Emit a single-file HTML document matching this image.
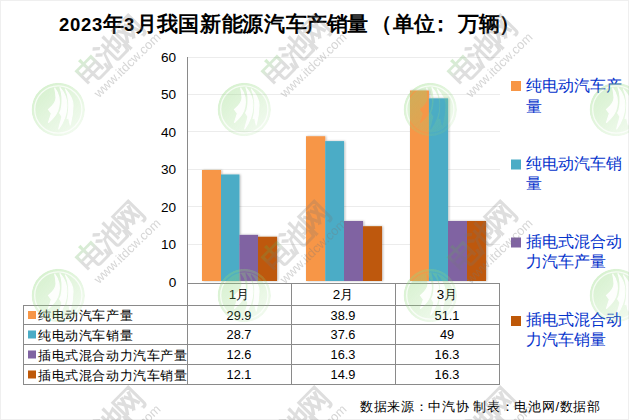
<!DOCTYPE html>
<html><head><meta charset="utf-8">
<style>
html,body{margin:0;padding:0;background:#fff;}
body{width:629px;height:420px;overflow:hidden;position:relative;font-family:"Liberation Sans",sans-serif;}
svg{position:absolute;left:0;top:0;}
.t{font-family:"Liberation Sans",sans-serif;}
</style></head><body>
<svg width="629" height="420" viewBox="0 0 629 420">
<defs>
  <filter id="sh" x="-20%" y="-20%" width="140%" height="140%"><feDropShadow dx="1" dy="0" stdDeviation="1.3" flood-color="#000" flood-opacity="0.28"/></filter>
  <linearGradient id="wg" x1="0.15" y1="0.1" x2="0.85" y2="0.9">
    <stop offset="0" stop-color="#8fd87a" stop-opacity="0.36"/><stop offset="1" stop-color="#8fd87a" stop-opacity="0.12"/>
  </linearGradient>
  <linearGradient id="tg" x1="0" y1="0" x2="1" y2="0">
    <stop offset="0" stop-color="#5cba4a"/><stop offset="0.22" stop-color="#7a9a70"/><stop offset="0.34" stop-color="#777"/><stop offset="1" stop-color="#777"/>
  </linearGradient>
  <mask id="lm" maskUnits="userSpaceOnUse" x="-30" y="-30" width="60" height="60">
    <rect x="-30" y="-30" width="60" height="60" fill="#000"/>
    <circle cx="0" cy="0" r="26.7" fill="#fff"/>
    <circle cx="0" cy="0" r="23.6" fill="none" stroke="#000" stroke-width="1.3" opacity="0.75"/>
    <g fill="#000" stroke="#000" stroke-width="1.1" stroke-linejoin="round" opacity="0.92">
    <path d="M-3.6,-21.5 C1,-16 1.8,-8 0.6,-3 C-0.5,4 -5,9 -9.8,13 L-6.9,3.9 L-9.8,0 C-5,-4 -2,-8 -2.3,-12 C-2.5,-16 -3,-19 -3.6,-21.5Z"/>
    <path d="M1.7,-22 C6,-17 8.8,-10 8.6,-4 C8.4,6 5,13 0.4,19.5 L3.7,7.2 L1.3,3.5 C3.5,0 4,-6 3.7,-12.8 C3.5,-16 2.8,-19 1.7,-22Z"/>
    <path d="M7.1,-20.5 C11,-16 14.8,-10 14.7,-4 C14.6,4 13.3,10 11.9,15.5 L10.2,8 L8.8,9.2 C10.4,4 10.6,-2 10.4,-7.5 C10,-13 8.8,-17 7.1,-20.5Z"/>
    </g>
  </mask>
  <g id="logo">
    <circle cx="0" cy="0" r="26.7" fill="url(#wg)" mask="url(#lm)"/>
  </g>
  <linearGradient id="eg" x1="0" y1="0" x2="0" y2="1">
    <stop offset="0" stop-color="#4fbf3a"/><stop offset="0.3" stop-color="#6aa860"/><stop offset="0.48" stop-color="#777"/><stop offset="1" stop-color="#777"/>
  </linearGradient>
  <g id="wm">
    <use href="#logo" x="58.3" y="109.5"/>
    <g transform="translate(110,50) rotate(-45.5)" font-size="30" font-weight="900" opacity="0.24" style="font-family:'Liberation Sans',sans-serif" text-anchor="middle" dominant-baseline="central">
      <text x="-26.5" y="0" fill="url(#eg)">电</text>
      <text x="0.5" y="0" fill="#777">池</text>
      <text x="26.5" y="0" fill="#777">网</text>
    </g>
    <g transform="translate(127,65) rotate(-44)">
      <text x="0" y="0" text-anchor="middle" dominant-baseline="central" font-size="12.8" letter-spacing="0" fill="#777" opacity="0.3" style="font-family:'Liberation Sans',sans-serif">www.itdcw.com</text>
    </g>
  </g>
</defs>
<rect x="0.5" y="0.5" width="628" height="419" fill="#fff" stroke="#efefef" stroke-width="1"/>
<!-- title -->
<text y="30.5" font-weight="bold" fill="#000" style="font-family:'Liberation Sans',sans-serif"><tspan font-size="18.5" x="59 70 81 92">2023</tspan><tspan font-size="21" x="102.5">年</tspan><tspan font-size="18.5" x="124">3</tspan><tspan font-size="21" x="135.8 156.5 178 199.5 221.5 242 264 286 306 327 347 371 393 414 430 457.5 478.5 499">月我国新能源汽车产销量（单位：万辆）</tspan></text>
<!-- gridlines -->
<g stroke="#ececec" stroke-width="1">
  <line x1="188" y1="57.5" x2="500" y2="57.5"/>
  <line x1="188" y1="94.5" x2="500" y2="94.5"/>
  <line x1="188" y1="131.5" x2="500" y2="131.5"/>
  <line x1="188" y1="169.5" x2="500" y2="169.5"/>
  <line x1="188" y1="206.5" x2="500" y2="206.5"/>
  <line x1="188" y1="244.5" x2="500" y2="244.5"/>
</g>
<!-- y labels -->
<g font-size="13.6" fill="#000" text-anchor="end" class="t">
  <text x="176.2" y="62">60</text>
  <text x="176.2" y="99">50</text>
  <text x="176.2" y="137">40</text>
  <text x="176.2" y="174">30</text>
  <text x="176.2" y="211.5">20</text>
  <text x="176.2" y="249">10</text>
  <text x="176.2" y="286.5">0</text>
</g>
<!-- bars -->
<g filter="url(#sh)">
  <rect x="202" y="169.98" width="19.05" height="111.02" fill="#F79646"/>
  <rect x="221" y="174.48" width="18.45" height="106.52" fill="#4BACC6"/>
  <rect x="239.4" y="234.85" width="18.65" height="46.15" fill="#8064A2"/>
  <rect x="258" y="236.73" width="19.05" height="44.27" fill="#BE5808"/>
  <rect x="306" y="136.23" width="19.25" height="144.77" fill="#F79646"/>
  <rect x="325.2" y="141.10" width="18.85" height="139.90" fill="#4BACC6"/>
  <rect x="344" y="220.98" width="19.05" height="60.02" fill="#8064A2"/>
  <rect x="363" y="226.23" width="19.05" height="54.77" fill="#BE5808"/>
  <rect x="410" y="90.48" width="18.95" height="190.52" fill="#F79646"/>
  <rect x="428.9" y="98.35" width="19.15" height="182.65" fill="#4BACC6"/>
  <rect x="448" y="220.98" width="19.05" height="60.02" fill="#8064A2"/>
  <rect x="467" y="220.98" width="19.05" height="60.02" fill="#BE5808"/>
</g>
<!-- axis + table lines -->
<g stroke="#8a8a8a" stroke-width="1" fill="none">
  <line x1="187.5" y1="57" x2="187.5" y2="384"/>
  <line x1="187" y1="283.5" x2="499.5" y2="283.5"/>
  <line x1="23" y1="305.5" x2="499.5" y2="305.5"/>
  <line x1="23" y1="324.5" x2="499.5" y2="324.5"/>
  <line x1="23" y1="344.5" x2="499.5" y2="344.5"/>
  <line x1="23" y1="364.5" x2="499.5" y2="364.5"/>
  <line x1="23" y1="384.5" x2="499.5" y2="384.5"/>
  <line x1="23.5" y1="305" x2="23.5" y2="385"/>
  <line x1="291.5" y1="283" x2="291.5" y2="385"/>
  <line x1="395.5" y1="283" x2="395.5" y2="385"/>
  <line x1="499.5" y1="283" x2="499.5" y2="385"/>
</g>
<!-- table header -->
<g font-size="13.4" fill="#000" text-anchor="middle" class="t">
  <text x="239" y="298.5">1月</text>
  <text x="343" y="298.5">2月</text>
  <text x="447" y="298.5">3月</text>
</g>
<g font-size="12.8" fill="#000" text-anchor="middle" class="t">
  <text x="239" y="319.5">29.9</text><text x="343" y="319.5">38.9</text><text x="447" y="319.5">51.1</text>
  <text x="239" y="339">28.7</text><text x="343" y="339">37.6</text><text x="447" y="339">49</text>
  <text x="239" y="359">12.6</text><text x="343" y="359">16.3</text><text x="447" y="359">16.3</text>
  <text x="239" y="379">12.1</text><text x="343" y="379">14.9</text><text x="447" y="379">16.3</text>
</g>
<g>
  <rect x="28" y="311" width="8" height="8" fill="#F79646"/>
  <rect x="28" y="330.5" width="8" height="8" fill="#4BACC6"/>
  <rect x="28" y="350.5" width="8" height="8" fill="#8064A2"/>
  <rect x="28" y="370.5" width="8" height="8" fill="#BE5808"/>
</g>
<g font-size="13.3" fill="#000" class="t" letter-spacing="0.6">
  <text x="38" y="320">纯电动汽车产量</text>
  <text x="38" y="339.5">纯电动汽车销量</text>
  <text x="38" y="359.5">插电式混合动力汽车产量</text>
  <text x="38" y="379.5">插电式混合动力汽车销量</text>
</g>
<!-- legend -->
<g>
  <rect x="511" y="81" width="10" height="10" fill="#F79646"/>
  <rect x="511" y="159.5" width="10" height="10" fill="#4BACC6"/>
  <rect x="511" y="237.5" width="10" height="10" fill="#8064A2"/>
  <rect x="511" y="316" width="10" height="10" fill="#BE5808"/>
</g>
<g font-size="16" fill="#0433CC" class="t" font-weight="350">
  <text x="526" y="90.5">纯电动汽车产</text><text x="526" y="111.5">量</text>
  <text x="526" y="168.7">纯电动汽车销</text><text x="526" y="188.7">量</text>
  <text x="526" y="246.9">插电式混合动</text><text x="526" y="266.9">力汽车产量</text>
  <text x="526" y="325.1">插电式混合动</text><text x="526" y="345.1">力汽车销量</text>
</g>
<!-- footer -->
<text x="360" y="410.5" font-size="13.1" fill="#000" class="t" letter-spacing="0.65">数据来源：中汽协 制表：电池网/数据部</text>
<!-- watermarks -->
<g>
  <use href="#wm" x="0" y="0"/><use href="#wm" x="186" y="0"/><use href="#wm" x="372" y="0"/><use href="#wm" x="558" y="0"/>
  <use href="#wm" x="0" y="186"/><use href="#wm" x="186" y="186"/><use href="#wm" x="372" y="186"/><use href="#wm" x="558" y="186"/>
  <use href="#wm" x="0" y="372"/><use href="#wm" x="186" y="372"/><use href="#wm" x="372" y="372"/><use href="#wm" x="558" y="372"/>
</g>
</svg>
</body></html>
